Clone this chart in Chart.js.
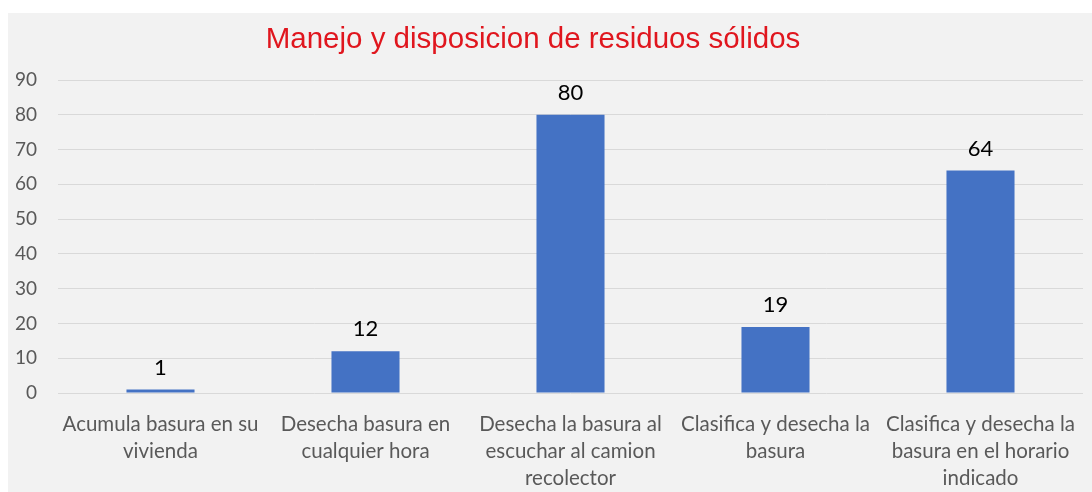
<!DOCTYPE html>
<html>
<head>
<meta charset="utf-8">
<script src="https://cdn.jsdelivr.net/npm/chart.js@4"></script>
<style>
  html, body { margin: 0; padding: 0; background: #ffffff; }
  #wrap {
    position: absolute; left: 8px; top: 13px;
    width: 1084px; height: 479px;
    background: #f2f2f2;
  }
</style>
</head>
<body>
<div id="wrap"><canvas id="myChart" width="1084" height="479"></canvas></div>
<script>
const categories = [
    ['Acumula basura en su', 'vivienda'],
    ['Desecha basura en', 'cualquier hora'],
    ['Desecha la basura al', 'escuchar al camion', 'recolector'],
    ['Clasifica y desecha la', 'basura'],
    ['Clasifica y desecha la', 'basura en el horario', 'indicado']
]
const values = [1, 12, 80, 19, 64]
const yTicks = [0, 10, 20, 30, 40, 50, 60, 70, 80, 90]
const chartTitle = 'Manejo y disposicion de residuos sólidos'

// Title sits a little left of the canvas centre
const titleText = {
    id: 'titleText',
    afterDraw(chart) {
        const { ctx } = chart
        ctx.save()
        ctx.font = '29.5px "Liberation Sans"'
        ctx.fillStyle = '#e0161e'
        ctx.textAlign = 'center'
        ctx.textBaseline = 'alphabetic'
        ctx.fillText(chartTitle, chart.width / 2 - 17, 35)
        ctx.restore()
    }
}

// Prints each bar's value just above it
const valueLabels = {
    id: 'valueLabels',
    afterDatasetsDraw(chart) {
        const { ctx } = chart
        const meta = chart.getDatasetMeta(0)
        ctx.save()
        ctx.font = '22px Lato'
        ctx.fillStyle = '#000000'
        ctx.textAlign = 'center'
        ctx.textBaseline = 'middle'
        meta.data.forEach((bar, i) => {
            ctx.fillText(String(values[i]), bar.x, bar.y - 22)
        })
        ctx.restore()
    }
}

const ctx = document.getElementById('myChart').getContext('2d')

const myChart = new Chart(ctx, {
    type: 'bar',
    data: {
        labels: categories,
        datasets: [{
            data: values,
            backgroundColor: '#4472c4',
            barPercentage: 1,
            categoryPercentage: 0.332
        }]
    },
    options: {
        responsive: false,
        animation: false,
        devicePixelRatio: 1,
        layout: {
            padding: { left: 0, right: 9, top: 67, bottom: 0 }
        },
        plugins: {
            legend: { display: false },
            tooltip: { enabled: false },
            title: { display: false }
        },
        scales: {
            x: {
                grid: { display: false, drawTicks: false },
                border: { display: false },
                ticks: {
                    color: '#595959',
                    font: { family: 'Lato', size: 20.5, lineHeight: 1.32 },
                    padding: 18,
                    maxRotation: 0,
                    autoSkip: false
                },
                afterFit(axis) {
                    axis.paddingLeft = 0
                    axis.paddingRight = 0
                    axis.height = 99
                }
            },
            y: {
                min: 0,
                max: 90,
                afterBuildTicks(axis) {
                    axis.ticks = yTicks.map(v => ({ value: v }))
                },
                grid: { color: '#d9d9d9', lineWidth: 1, drawTicks: false },
                border: { display: false },
                ticks: {
                    color: '#595959',
                    font: { family: 'Lato', size: 19 },
                    padding: 21
                },
                afterFit(axis) {
                    axis.width = 50
                }
            }
        }
    },
    plugins: [valueLabels, titleText]
})
</script>
</body>
</html>
